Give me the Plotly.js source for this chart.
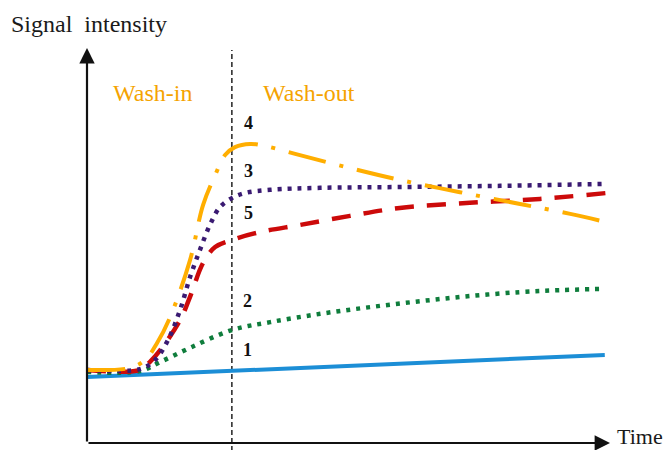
<!DOCTYPE html>
<html>
<head>
<meta charset="utf-8">
<script src="https://cdn.plot.ly/plotly-3.0.1.min.js"></script>
<style>html,body{margin:0;padding:0;background:#fff}</style>
</head>
<body>
<div id="chart" style="width:666px;height:450px"></div>
<script>
// Time (arbitrary units, 0-100) and signal intensity (arbitrary units, 0-100)
const curve1X = [0, 99.0];
const curve1Y = [16.7, 22.3];

const curve2X = [0, 10.1, 14.0, 19.7, 27.7, 35.0, 44.6, 54.1, 63.7, 73.2, 82.8, 90.4, 98.5];
const curve2Y = [18.0, 18.2, 20.5, 24.1, 28.6, 30.6, 32.7, 34.4, 35.9, 37.2, 38.2, 38.7, 39.0];

const curve3X = [0, 10.1, 13.0, 15.5, 17.8, 19.7, 21.6, 23.5, 25.4, 27.7, 30.2, 35.0, 44.6, 59.8, 79.0, 99.0];
const curve3Y = [18.5, 18.7, 21.0, 26.1, 33.7, 42.0, 48.9, 55.2, 59.7, 62.0, 63.3, 64.1, 64.6, 64.8, 65.1, 65.6];

const curve4X = [0, 8.2, 11.1, 13.4, 15.9, 19.7, 22.2, 24.5, 26.4, 28.3, 31.2, 34.0, 39.8, 50.3, 59.8, 71.3, 82.8, 92.4, 99.4];
const curve4Y = [18.5, 19.0, 21.0, 25.3, 31.9, 46.3, 60.3, 67.8, 72.9, 74.9, 75.7, 75.2, 73.2, 69.6, 66.6, 63.5, 60.5, 58.0, 55.9];

const curve5X = [0, 10.1, 12.0, 14.0, 17.8, 19.7, 22.2, 24.5, 27.7, 33.1, 40.7, 50.3, 59.8, 73.2, 86.6, 99.4];
const curve5Y = [18.5, 18.5, 20.5, 23.5, 31.1, 37.0, 45.6, 49.6, 51.4, 53.4, 55.2, 57.5, 59.5, 60.8, 61.8, 63.3];

const washTime = 27.7;           // boundary between wash-in and wash-out
const curveLabels = ["4", "3", "5", "2", "1"];
const labelX = [30.8, 30.8, 30.8, 30.6, 30.6];
const labelY = [81.0, 68.9, 58.2, 36.0, 23.5];

const xMax = 100, yMax = 100;

const traces = [
  {x: curve1X, y: curve1Y, mode: 'lines', line: {color: '#1c8ed6', width: 4}},
  {x: curve2X, y: curve2Y, mode: 'lines', line: {color: '#0f7d3c', width: 4.5, dash: '4px,6px', shape: 'spline'}},
  {x: curve5X, y: curve5Y, mode: 'lines', line: {color: '#cc0a0a', width: 4.5, dash: '19px,13px', shape: 'spline'}},
  {x: curve3X, y: curve3Y, mode: 'lines', line: {color: '#3a1a72', width: 4.5, dash: '4px,6px', shape: 'spline'}},
  {x: curve4X, y: curve4Y, mode: 'lines', line: {color: '#ffae00', width: 4, dash: '38px,14px,4px,14px', shape: 'spline'}}
];

const serif = 'Liberation Serif, Times New Roman, serif';
const annotations = [];
curveLabels.forEach((t, i) => annotations.push({
  x: labelX[i], y: labelY[i], xref: 'x', yref: 'y', text: '<b>' + t + '</b>',
  showarrow: false, font: {family: serif, size: 18, color: '#111'}
}));
annotations.push(
  {x: -0.149, y: 1.062, xref: 'paper', yref: 'paper', xanchor: 'left', yanchor: 'middle',
   text: 'Signal  intensity', showarrow: false, font: {family: serif, size: 24, color: '#1a1a1a'}},
  {x: 0.046, y: 0.886, xref: 'paper', yref: 'paper', xanchor: 'left', yanchor: 'middle',
   text: 'Wash-in', showarrow: false, font: {family: serif, size: 24, color: '#f5a300'}},
  {x: 0.333, y: 0.886, xref: 'paper', yref: 'paper', xanchor: 'left', yanchor: 'middle',
   text: 'Wash-out', showarrow: false, font: {family: serif, size: 24, color: '#f5a300'}},
  {x: 1.010, y: 0.016, xref: 'paper', yref: 'paper', xanchor: 'left', yanchor: 'middle',
   text: 'Time', showarrow: false, font: {family: serif, size: 22, color: '#1a1a1a'}},
  // axis arrows
  {x: 0, y: yMax, xref: 'x', yref: 'y', ax: 0, ay: 0, axref: 'x', ayref: 'y', text: '',
   showarrow: true, arrowhead: 2, arrowsize: 1.4, arrowwidth: 2.2, arrowcolor: '#111'},
  {x: xMax, y: 0, xref: 'x', yref: 'y', ax: 0, ay: 0, axref: 'x', ayref: 'y', text: '',
   showarrow: true, arrowhead: 2, arrowsize: 1.4, arrowwidth: 2.2, arrowcolor: '#111'}
);

const layout = {
  width: 666, height: 450,
  margin: {l: 87, r: 56, t: 48, b: 7, pad: 0},
  paper_bgcolor: '#fff', plot_bgcolor: '#fff',
  showlegend: false,
  xaxis: {range: [0, xMax], visible: false, fixedrange: true},
  yaxis: {range: [0, yMax], visible: false, fixedrange: true},
  shapes: [
    {type: 'line', xref: 'x', yref: 'paper', x0: washTime, x1: washTime, y0: -0.02, y1: 0.995,
     line: {color: '#222', width: 1.5, dash: '5px,3px'}, layer: 'below'}
  ],
  annotations: annotations
};

traces.forEach(t => t.cliponaxis = false);
Plotly.newPlot('chart', traces, layout, {staticPlot: true, displayModeBar: false});
</script>
</body>
</html>
